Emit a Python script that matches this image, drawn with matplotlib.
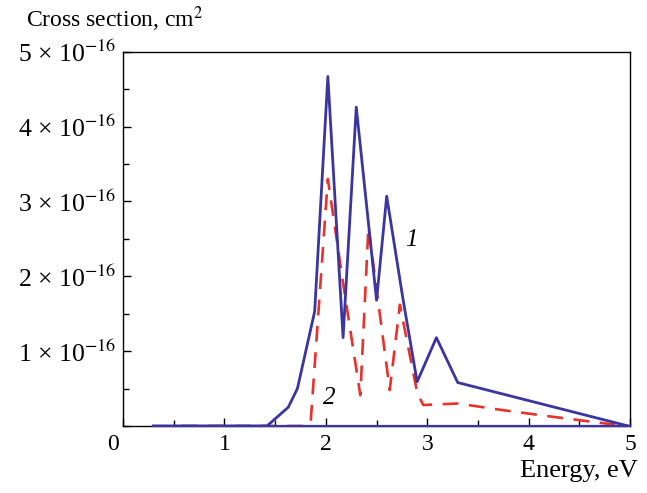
import matplotlib
matplotlib.use('Agg')
import matplotlib.pyplot as plt
from matplotlib.ticker import MultipleLocator, FixedLocator, FixedFormatter
import matplotlib.transforms as mtransforms

plt.rcParams['font.family'] = ['Liberation Serif', 'DejaVu Serif']
plt.rcParams['mathtext.fontset'] = 'stix'

# curve 1 (solid), energies in eV, cross sections in 1e-16 cm^2
energy1 = [0.30, 1.42, 1.63, 1.72, 1.89, 2.02, 2.17, 2.30, 2.50, 2.60, 2.76, 2.90, 3.09, 3.30, 4.98]
sigma1 = [0.0, 0.0, 0.25, 0.50, 1.53, 4.67, 1.18, 4.26, 1.68, 3.07, 1.70, 0.59, 1.18, 0.58, 0.0]

# zero line drawn along the axis
base_energy = [0.30, 5.0]
base_sigma = [0.0, 0.0]

# curve 2 (dashed)
energy2 = [0.58, 1.80, 1.85, 2.02, 2.17, 2.34, 2.42, 2.63, 2.73, 2.90, 2.96, 3.30, 3.75, 4.25, 4.60, 4.95]
sigma2 = [0.0, 0.0, 0.04, 3.30, 1.91, 0.41, 2.66, 0.48, 1.62, 0.45, 0.28, 0.30, 0.21, 0.12, 0.06, 0.0]

yticks = [1, 2, 3, 4, 5]
ytick_labels = ['%d × 10$^{-16}$' % v for v in yticks]
xticks = [0, 1, 2, 3, 4, 5]

blue = '#3a35a0'
red = '#e8322b'

fig = plt.figure(figsize=(6.47, 4.93), dpi=100)
ax = fig.add_axes([0.190, 0.136, 0.784, 0.759])

ax.plot(base_energy, base_sigma, color=blue, lw=1.6, clip_on=False, zorder=3)
ax.plot(energy2, sigma2, color=red, lw=1.9, dashes=(6, 4), zorder=2)
ax.plot(energy1, sigma1, color=blue, lw=2.0, zorder=3)

ax.set_xlim(0, 5)
ax.set_ylim(0, 5)

ax.xaxis.set_major_locator(FixedLocator(xticks))
ax.xaxis.set_minor_locator(MultipleLocator(0.5))
ax.yaxis.set_major_locator(FixedLocator(yticks))
ax.yaxis.set_major_formatter(FixedFormatter(ytick_labels))
ax.yaxis.set_minor_locator(MultipleLocator(0.5))

ax.tick_params(which='both', direction='in', top=False, right=False, width=1)
ax.tick_params(which='major', length=6)
ax.tick_params(which='minor', length=4)
ax.tick_params(axis='x', pad=6, labelsize=17)
ax.tick_params(axis='y', pad=5, labelsize=18.5)

for sp in ax.spines.values():
    sp.set_linewidth(1.0)

# shift the "0" label a bit left, away from the y axis
lbl0 = ax.get_xticklabels()[0]
lbl0.set_transform(lbl0.get_transform() + mtransforms.ScaledTranslation(-10 / 100, 0, fig.dpi_scale_trans))

ax.text(2.78, 2.4, '1', fontsize=18, style='italic')
ax.text(1.97, 0.3, '2', fontsize=18, style='italic')

fig.text(0.040, 0.962, r'Cross section, cm$^2$', fontsize=17, ha='left', va='center')
fig.text(0.985, 0.045, 'Energy, eV', fontsize=19, ha='right', va='center')

fig.savefig('out.png', dpi=100)
